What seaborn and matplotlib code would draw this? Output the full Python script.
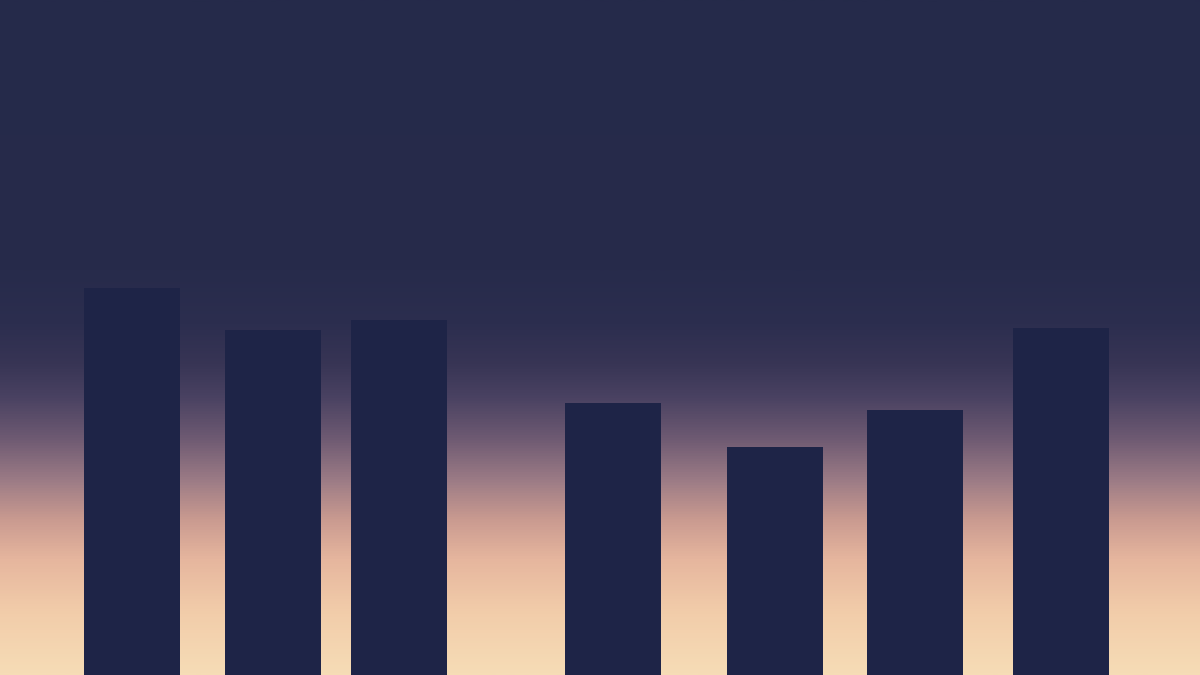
import numpy as np
import pandas as pd
import seaborn as sns
import matplotlib.pyplot as plt
from matplotlib.colors import LinearSegmentedColormap

# bar centres (horizontal value) and heights
x_vals = [132, 273, 399, 613, 775, 915, 1061]
heights = [387, 345, 355, 272, 228, 265, 347]

df = pd.DataFrame({'x': x_vals, 'h': heights})

# dusk sky: dark navy at the top fading to cream at the bottom
sky = LinearSegmentedColormap.from_list('sky', [
    (0.00, '#252a4a'),
    (0.40, '#272b4b'),
    (0.48, '#2c2e4f'),
    (0.54, '#383555'),
    (0.59, '#4a4262'),
    (0.65, '#6e5a72'),
    (0.71, '#9a7a85'),
    (0.77, '#c99a90'),
    (0.83, '#e6b69e'),
    (0.91, '#f2cdaa'),
    (1.00, '#f6dcb6'),
])

sns.set_style('white')
fig = plt.figure(figsize=(12, 6.75), dpi=100)
ax = fig.add_axes([0, 0, 1, 1])

grad = np.linspace(0, 1, 512).reshape(-1, 1)
ax.imshow(grad, cmap=sky, aspect='auto', extent=(0, 1200, 0, 675),
          origin='upper', zorder=0)

sns.barplot(data=df, x='x', y='h', native_scale=True, width=0.755,
            color='#1e2447', saturation=1, ax=ax, zorder=2, edgecolor='none')

ax.set_xlim(0, 1200)
ax.set_ylim(0, 675)
ax.set_axis_off()

plt.savefig('out.png', dpi=100)
